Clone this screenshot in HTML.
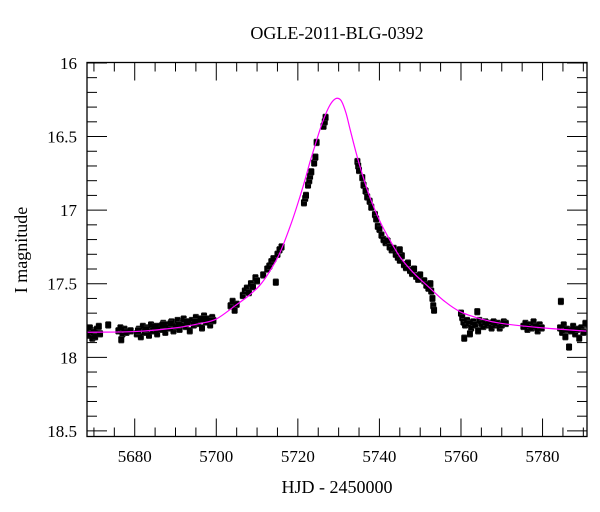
<!DOCTYPE html>
<html><head><meta charset="utf-8"><style>
html,body{margin:0;padding:0;background:#fff;}
svg{display:block;font-family:"Liberation Serif",serif;}
</style></head><body>
<svg id="chart" width="600" height="512" viewBox="0 0 600 512" xmlns="http://www.w3.org/2000/svg">
<defs><clipPath id="pc"><rect x="87" y="62.5" width="500" height="374"/></clipPath></defs>
<text x="337" y="39" font-size="18" text-anchor="middle">OGLE-2011-BLG-0392</text>
<text x="337" y="493" font-size="18" text-anchor="middle">HJD - 2450000</text>
<text transform="translate(27,250) rotate(-90)" font-size="18" text-anchor="middle">I magnitude</text>
<g id="axes"></g>
<g id="pts" clip-path="url(#pc)"></g>
<g id="model" clip-path="url(#pc)"></g>
<rect x="87" y="62.5" width="500" height="374" fill="none" stroke="#000" stroke-width="1.3"/>
</svg>
<script>
const xTicks=[5680,5700,5720,5740,5760,5780];
const yTicks=[16,16.5,17,17.5,18,18.5];
const modelT=[5660,5668,5680,5690,5696,5700,5704.6,5708,5710.7,5713,5715.6,5718.5,5720.5,5721.8,5723,5724,5725.4,5726.5,5727.6,5728.7,5729.7,5730.7,5731.8,5732.8,5734,5735.3,5737.5,5740.2,5742.5,5745.1,5748.5,5752.4,5756,5759.8,5765,5770,5780,5795];
const modelM=[17.835,17.83,17.825,17.80,17.77,17.74,17.65,17.58,17.51,17.42,17.29,17.08,16.91,16.79,16.67,16.58,16.455,16.37,16.30,16.255,16.24,16.26,16.34,16.45,16.58,16.71,16.90,17.08,17.20,17.32,17.43,17.53,17.62,17.69,17.74,17.77,17.80,17.83];
const obsT=[5668.3,5668.6,5669,5669.3,5669.6,5670,5670.3,5670.7,5671.2,5671.5,5673.5,
5676,5676.5,5677,5677.5,5678,5676.7,5679,
5680.5,5681,5681.5,5682,5682.5,5683,5683.5,5684,5684.5,5685,5685.5,5686,5686.5,5687,5687.5,5688,5688.5,5689,5689.5,5690,5690.5,5691,5691.5,5692,5692.5,5693,5693.5,5694,5694.5,5695,5695.5,5696,5696.5,5697,5697.5,5698,5698.5,5699,5699.3,
5680.8,5682.8,5684.8,5686.8,5688.8,5690.8,5692.8,5694.8,5696.8,5698.8,
5703.5,5704,5704.5,5705,5706.5,5707,5707.5,5708,5708.5,5709,5709.6,5710,5714.6,
5711.5,5712.5,5713,5713.5,5714,5715,5715.5,5716,
5721.5,5721.8,5722,5722.5,5722.8,5723,5723.3,5724,5724.3,5724.6,5726.3,5726.6,5726.8,
5734.6,5734.8,5735,5735.8,5736.1,5736.6,5737,5737.6,5738,5738.9,5739.2,5739.6,5740,
5740.5,5741,5741.5,5742,5742.5,5743,5743.5,5744,5744.5,5745,5745.5,5746,5746.5,5747,5747.5,5748,5748.5,5749,5749.5,5750,5745,
5751,5751.5,5752,5752.5,5752.7,5753,5753.2,5753.4,
5760,5760.3,5760.6,5761,5761.5,5762,5762.5,5763,5763.5,5764,5764.2,5764.5,5765,5765.5,5766,5766.5,5767,5767.5,5768,5768.5,5769,5769.5,5770,5770.5,5771,5760.8,5762.2,
5775.3,5775.8,5776.3,5776.8,5777.3,5777.8,5778.3,5778.8,5779.3,5779.8,
5784.3,5784.8,5785.2,5785.6,5786,5786.5,5787,5787.5,5788,5788.5,5789,5789.5,5790,5790.5,5784.5];
const obsM=[17.82,17.85,17.80,17.84,17.87,17.83,17.86,17.81,17.79,17.84,17.78,
17.82,17.80,17.84,17.81,17.83,17.88,17.82,
17.84,17.81,17.86,17.79,17.83,17.80,17.85,17.78,17.82,17.80,17.84,17.79,17.81,17.77,17.83,17.78,17.80,17.76,17.82,17.79,17.75,17.81,17.77,17.74,17.79,17.76,17.82,17.75,17.78,17.73,17.77,17.74,17.80,17.72,17.76,17.74,17.78,17.73,17.75,
17.82,17.81,17.79,17.78,17.77,17.78,17.76,17.76,17.74,17.75,
17.65,17.62,17.68,17.64,17.58,17.55,17.53,17.56,17.50,17.52,17.46,17.48,17.49,
17.44,17.40,17.38,17.35,17.33,17.30,17.27,17.25,
16.95,16.92,16.90,16.83,16.80,16.77,16.74,16.68,16.64,16.54,16.43,16.40,16.37,
16.67,16.70,16.73,16.78,16.83,16.87,16.91,16.94,16.98,17.03,17.06,17.11,17.13,
17.17,17.20,17.22,17.21,17.25,17.27,17.26,17.30,17.32,17.34,17.31,17.37,17.39,17.36,17.41,17.43,17.40,17.45,17.47,17.44,17.27,
17.48,17.51,17.53,17.50,17.55,17.60,17.65,17.68,
17.70,17.73,17.76,17.78,17.75,17.77,17.80,17.76,17.78,17.69,17.82,17.75,17.77,17.79,17.76,17.78,17.77,17.80,17.76,17.78,17.77,17.80,17.78,17.76,17.77,17.87,17.84,
17.79,17.77,17.81,17.78,17.80,17.76,17.79,17.82,17.78,17.80,
17.80,17.83,17.78,17.86,17.81,17.93,17.82,17.79,17.84,17.81,17.87,17.80,17.83,17.77,17.62];
const obsErr=0.022;

const NS="http://www.w3.org/2000/svg";
const X0=87,X1=587,Y0=62.5,Y1=436.5;
const tMin=5668.3,tMax=5790.9,mMin=15.997,mMax=18.538;
function xs(t){return X0+(t-tMin)/(tMax-tMin)*(X1-X0);}
function ys(m){return Y0+(m-mMin)/(mMax-mMin)*(Y1-Y0);}
function mk(tag,attrs,parent){const e=document.createElementNS(NS,tag);for(const k in attrs)e.setAttribute(k,attrs[k]);parent.appendChild(e);return e;}
const axes=document.getElementById('axes');
for(let t=5670;t<=5790;t+=5){
  const major=(t%20===0);const L=major?18:9;const x=xs(t);
  const a=mk('line',{x1:x,x2:x,y1:Y1,y2:Y1-L,stroke:'#000','stroke-width':1},axes);
  
  
  const b=mk('line',{x1:x,x2:x,y1:Y0,y2:Y0+L,stroke:'#000','stroke-width':1},axes);
  
  
}
xTicks.forEach(t=>{
  const e=mk('text',{x:xs(t),y:462,'font-size':17,'text-anchor':'middle'},axes);e.textContent=t;
  
  
});
for(let i=0;i<=25;i++){
  const m=16+i*0.1;const major=(i%5===0);const L=major?20:10;const y=ys(m);
  const a=mk('line',{x1:X0,x2:X0+L,y1:y,y2:y,stroke:'#000','stroke-width':1},axes);
  
  
  const b=mk('line',{x1:X1,x2:X1-L,y1:y,y2:y,stroke:'#000','stroke-width':1},axes);
  
  
}
yTicks.forEach(m=>{
  const e=mk('text',{x:77,y:ys(m)+6,'font-size':17,'text-anchor':'end'},axes);e.textContent=m;
  
  
});
// points
const pg=document.getElementById('pts');
obsT.forEach((t,i)=>{
  const x=xs(t),y=ys(obsM[i]),ya=ys(obsM[i]-obsErr),yb=ys(obsM[i]+obsErr);
  const g=mk('g',{},pg);
  
  
  mk('path',{d:`M${x} ${ya}V${yb}M${x-2.5} ${ya}H${x+2.5}M${x-2.5} ${yb}H${x+2.5}`,stroke:'#333','stroke-width':0.9,fill:'none'},g);
  mk('rect',{x:x-3,y:y-3,width:6,height:6,fill:'#000'},g);
});
// model (Catmull-Rom smoothing through sampled points)
const mg=document.getElementById('model');
const P=modelT.map((t,i)=>[xs(t),ys(modelM[i])]);
let d='M'+P[0][0].toFixed(2)+' '+P[0][1].toFixed(2);
for(let i=0;i<P.length-1;i++){
  const p0=P[Math.max(0,i-1)],p1=P[i],p2=P[i+1],p3=P[Math.min(P.length-1,i+2)];
  const c1=[p1[0]+(p2[0]-p0[0])/6,p1[1]+(p2[1]-p0[1])/6];
  const c2=[p2[0]-(p3[0]-p1[0])/6,p2[1]-(p3[1]-p1[1])/6];
  d+=`C${c1[0].toFixed(2)} ${c1[1].toFixed(2)} ${c2[0].toFixed(2)} ${c2[1].toFixed(2)} ${p2[0].toFixed(2)} ${p2[1].toFixed(2)}`;
}
const p=mk('path',{d:d,fill:'none',stroke:'#ff00ff','stroke-width':1.2,'stroke-linejoin':'round'},mg);


</script>
</body></html>
